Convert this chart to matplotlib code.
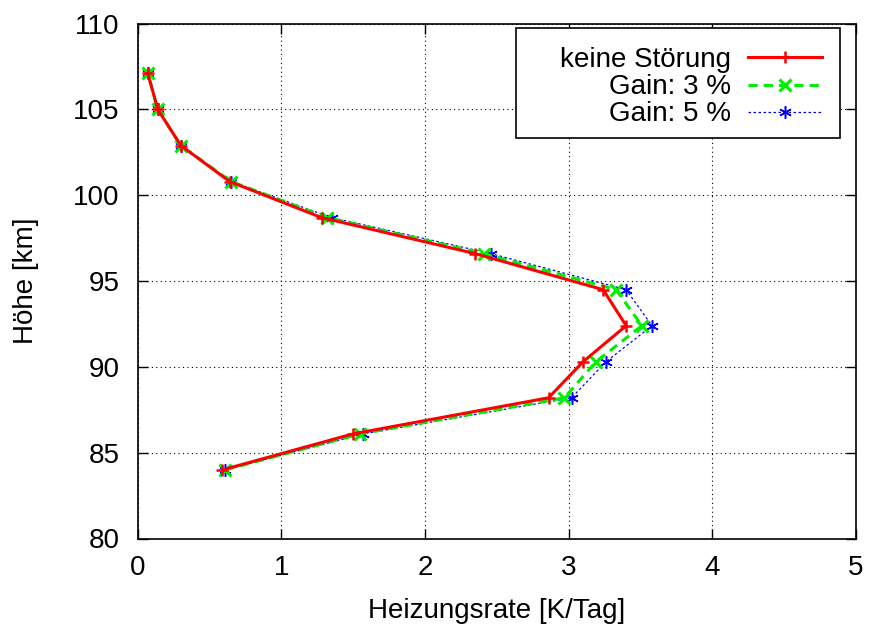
import matplotlib
matplotlib.use("Agg")
import matplotlib.pyplot as plt
from matplotlib.patches import Rectangle

plt.rcParams["font.family"] = ["Liberation Sans", "DejaVu Sans"]
plt.rcParams["font.size"] = 20

# Höhenprofil der Heizungsrate
hoehe = [84.0, 86.1, 88.2, 90.3, 92.4, 94.5, 96.6, 98.7, 100.8, 102.9, 105.0, 107.1]
rate_ohne = [0.59, 1.50, 2.86, 3.10, 3.40, 3.24, 2.35, 1.28, 0.64, 0.30, 0.14, 0.07]
rate_gain3 = [0.61, 1.55, 2.97, 3.19, 3.51, 3.33, 2.41, 1.32, 0.65, 0.30, 0.14, 0.07]
rate_gain5 = [0.61, 1.57, 3.02, 3.26, 3.58, 3.40, 2.46, 1.35, 0.65, 0.30, 0.14, 0.07]
labels = ["keine Störung", "Gain: 3 %", "Gain: 5 %"]

fig = plt.figure(figsize=(8.69, 6.25), dpi=100)
ax = fig.add_axes([0.1585, 0.1384, 0.8265, 0.8237])

ax.plot(rate_ohne, hoehe, color="red", lw=2.2, marker="+", ms=8, mew=1.8,
        label=labels[0], zorder=4)
ax.plot(rate_gain3, hoehe, color="#00ee00", lw=2.2, ls=(0, (3, 2)), marker="x",
        ms=8, mew=2.2, label=labels[1], zorder=3)
ax.plot(rate_gain5, hoehe, color="blue", lw=0.9, ls=(0, (2, 2)), marker=(6, 2, 0),
        ms=9, mew=1.1, label=labels[2], zorder=2)

ax.set_xlim(0, 5)
ax.set_ylim(80, 110)
ax.set_xticks(range(0, 6))
ax.set_yticks(range(80, 111, 5))
ax.grid(True, color="black", ls=(0, (1, 3)), lw=0.8)
ax.tick_params(direction="in", length=7, width=1, top=True, right=True)
ax.tick_params(axis="x", pad=12)
ax.tick_params(axis="y", pad=13)
for s in ax.spines.values():
    s.set_linewidth(1.2)

ax.set_xlabel("Heizungsrate [K/Tag]", labelpad=12)
ax.set_ylabel("Höhe [km]")
ax.yaxis.set_label_coords(-0.137, 0.5)

# Legendenrahmen separat, Einträge rechtsbündig davor
ax.add_patch(Rectangle((0.5267, 0.778), 0.451, 0.2137, transform=ax.transAxes,
                       facecolor="white", edgecolor="black", lw=1.2, zorder=5))
leg = ax.legend(loc="upper right", bbox_to_anchor=(0.9527, 0.9543), borderaxespad=0,
                markerfirst=False, numpoints=1, handlelength=2.66, handletextpad=0.63,
                labelspacing=0.04, borderpad=0, frameon=False, fontsize=20)
leg.set_zorder(6)

fig.savefig("out.png", dpi=100)
